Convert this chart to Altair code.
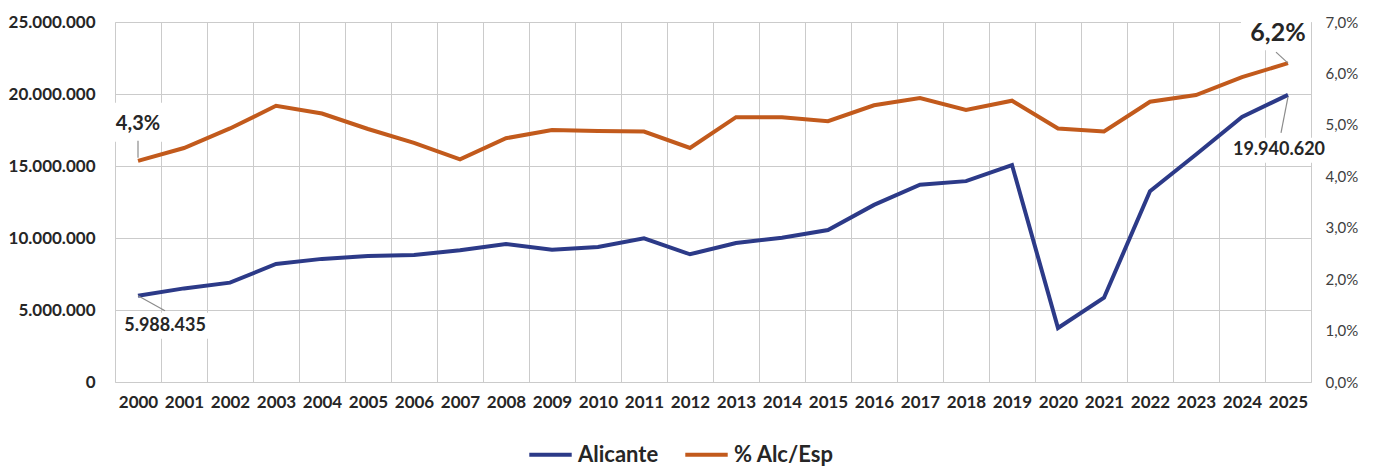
import altair as alt
import pandas as pd

years = [str(y) for y in range(2000, 2026)]
alicante = [5988435, 6500000, 6900000, 8200000, 8550000, 8750000, 8820000, 9150000,
            9580000, 9180000, 9380000, 9980000, 8870000, 9650000, 10020000, 10550000,
            12300000, 13700000, 13950000, 15070000, 3750000, 5850000, 13250000,
            15800000, 18400000, 19940620]
pct = [4.3, 4.55, 4.93, 5.37, 5.22, 4.92, 4.65, 4.33, 4.74, 4.9, 4.88, 4.87, 4.55,
       5.15, 5.15, 5.07, 5.38, 5.52, 5.29, 5.47, 4.93, 4.87, 5.45, 5.58, 5.93, 6.2]
series_names = ["Alicante", "% Alc/Esp"]
colors = ["#2C3A88", "#C25A1C"]
left_ticks = [0, 5000000, 10000000, 15000000, 20000000, 25000000]
right_ticks = [0, 1, 2, 3, 4, 5, 6, 7]

FONT = "Lato"
TXT = "#262626"
GRID = "#cbcbcb"


def fmt_int(v):
    return f"{v:,}".replace(",", ".")


def fmt_pct(v):
    return f"{v:.1f}".replace(".", ",") + "%"


df_a = pd.DataFrame({"year": years, "value": alicante, "series": series_names[0]})
df_p = pd.DataFrame({"year": years, "value": pct, "series": series_names[1]})

xscale = alt.Scale(type="band", paddingInner=0, paddingOuter=0)
xaxis = alt.Axis(title=None, tickBand="extent", grid=True, gridColor=GRID, gridWidth=1,
                 ticks=False, domain=False, labelFont=FONT, labelFontSize=17,
                 labelFontWeight="bold", labelColor=TXT, labelPadding=12, labelAngle=0)
X = alt.X("year:O", bandPosition=0.5, scale=xscale, axis=xaxis)
X2 = alt.X2("year:O", bandPosition=0.5)

color = alt.Color(
    "series:N",
    scale=alt.Scale(domain=series_names, range=colors),
    legend=alt.Legend(orient="none", legendX=412, legendY=409, direction="horizontal",
                      title=None, symbolType="stroke", symbolStrokeWidth=4,
                      symbolSize=1800, labelFont=FONT, labelFontSize=22,
                      labelFontWeight="bold", labelColor=TXT, columnPadding=18,
                      labelOffset=4),
)

yl_scale = alt.Scale(domain=[0, 25000000], nice=False, zero=True)
yr_scale = alt.Scale(domain=[0, 7], nice=False, zero=True)

yl_axis = alt.Axis(title=None, values=left_ticks, grid=True, gridColor=GRID, ticks=False,
                   domain=False, labelFont=FONT, labelFontSize=17, labelFontWeight="bold",
                   labelColor=TXT, labelPadding=20,
                   labelExpr="replace(format(datum.value, ',d'), /,/g, '.')")
yr_axis = alt.Axis(title=None, orient="right", values=right_ticks, grid=False, ticks=False,
                   domain=False, labelFont=FONT, labelFontSize=15, labelColor="#404040",
                   labelPadding=14,
                   labelExpr="replace(format(datum.value, '.1f'), '.', ',') + '%'")


def annotation(df, yscale, yaxis, dx, dy, size, box, leader):
    Y = alt.Y("value:Q", scale=yscale, axis=yaxis)
    Y2 = alt.Y2("value:Q")
    rect = alt.Chart(df).mark_rect(color="white", xOffset=box[0], x2Offset=box[1],
                                   yOffset=box[2], y2Offset=box[3]).encode(
        x=X, x2=X2, y=Y, y2=Y2)
    rule = alt.Chart(df).mark_rule(color="#8c8c8c", strokeWidth=1.2,
                                   xOffset=leader[0], yOffset=leader[1],
                                   x2Offset=leader[2], y2Offset=leader[3]).encode(
        x=X, x2=X2, y=Y, y2=Y2)
    text = alt.Chart(df).mark_text(font=FONT, fontSize=size, fontWeight="bold", color=TXT,
                                   dx=dx, dy=dy, align="center", baseline="middle").encode(
        x=X, y=Y, text="label:N")
    return [rect, rule, text]


def row(years_i, value, label):
    return pd.DataFrame({"year": [years_i], "value": [value], "label": [label]})


line_a = alt.Chart(df_a).mark_line(strokeWidth=4).encode(
    x=X, y=alt.Y("value:Q", scale=yl_scale, axis=yl_axis), color=color)
line_p = alt.Chart(df_p).mark_line(strokeWidth=4).encode(
    x=X, y=alt.Y("value:Q", scale=yr_scale, axis=yr_axis), color=color)

ann_a = (annotation(row(years[0], alicante[0], fmt_int(alicante[0])), yl_scale, yl_axis,
                    27, 30, 18, (-18, 72, 17, 43), (0, 0, 27, 15))
         + annotation(row(years[-1], alicante[-1], fmt_int(alicante[-1])), yl_scale, yl_axis,
                      -9, 55, 18, (-59, 43, 43, 68), (0, 2, -7, 38)))
ann_p = (annotation(row(years[0], pct[0], fmt_pct(pct[0])), yr_scale, yr_axis,
                    0, -37, 20, (-27, 29, -58, -19), (0, -20, 0, -3))
         + annotation(row(years[-1], pct[-1], fmt_pct(pct[-1])), yr_scale, yr_axis,
                      -10, -30, 25, (-47, 23, -48, -13), (-12, -11, 0, 0)))

left = alt.layer(line_a, *ann_a)
right = alt.layer(line_p, *ann_p)

chart = alt.layer(left, right).resolve_scale(y="independent").properties(
    width=1196, height=360,
    autosize=alt.AutoSizeParams(type="none"),
    padding={"left": 107, "top": 14, "right": 57, "bottom": 84},
).configure_view(stroke=None).configure(background="white")

chart.save("out.html", embed_options={"renderer": "svg", "actions": False})
